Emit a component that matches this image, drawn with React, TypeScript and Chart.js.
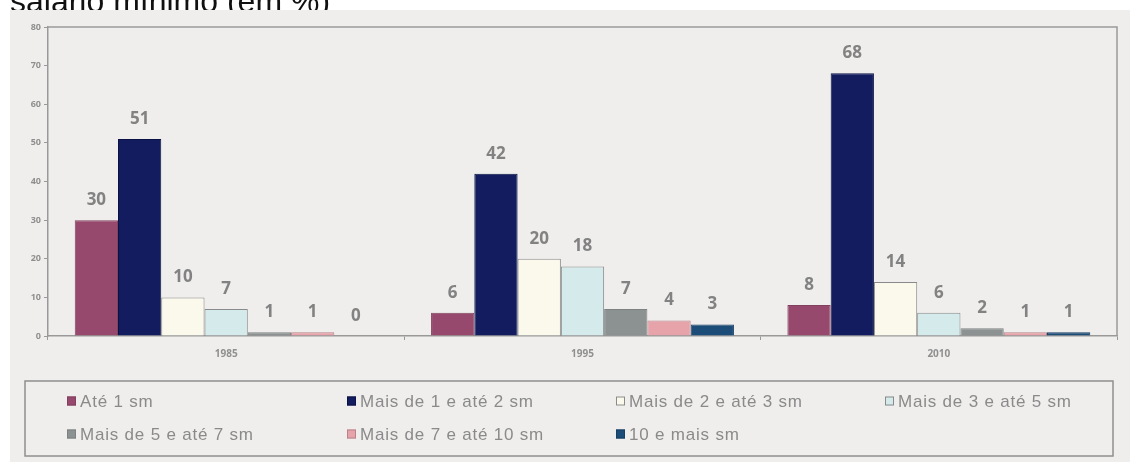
import React, { useEffect, useRef } from "react";
import { Chart, registerables } from "chart.js";

Chart.register(...registerables);

const categories = ["1985", "1995", "2010"];
const seriesLabels = [
  "Até 1 sm",
  "Mais de 1 e até 2 sm",
  "Mais de 2 e até 3 sm",
  "Mais de 3 e até 5 sm",
  "Mais de 5 e até 7 sm",
  "Mais de 7 e até 10 sm",
  "10 e mais sm",
];
const ate1 = [30, 6, 8];
const de1a2 = [51, 42, 68];
const de2a3 = [10, 20, 14];
const de3a5 = [7, 18, 6];
const de5a7 = [1, 7, 2];
const de7a10 = [1, 4, 1];
const mais10 = [0, 3, 1];
const yTicks = [0, 10, 20, 30, 40, 50, 60, 70, 80];
const titleText = "salário mínimo (em %)";

const seriesValues = [ate1, de1a2, de2a3, de3a5, de5a7, de7a10, mais10];
const fills = ["#96496d", "#121c5e", "#fbf9ec", "#d4eaeb", "#8c9292", "#e6a3aa", "#1c4d78"];
const borders = ["#80405e", "#0a1245", "#8a8a8a", "#8a8a8a", "#7c8282", "#b88288", "#163f63"];
const legendPos = [
  [67, 401], [347, 401], [616, 401], [885, 401],
  [67, 434], [347, 434], [616, 434],
];

const GRAY = "#8a8a8a";

const bgPlugin = {
  id: "bgPlugin",
  beforeDraw(chart: any) {
    const ctx = chart.ctx;
    ctx.save();
    ctx.fillStyle = "#ffffff";
    ctx.fillRect(0, 0, chart.width, chart.height);
    ctx.fillStyle = "#111111";
    ctx.font = "32px 'Liberation Sans', Arial, sans-serif";
    ctx.textBaseline = "alphabetic";
    ctx.textAlign = "left";
    ctx.fillText(titleText, 10, 12);
    ctx.fillStyle = "#efeeec";
    ctx.fillRect(10, 10, chart.width - 10, chart.height - 10);
    ctx.restore();
  },
  afterDraw(chart: any) {
    const ctx = chart.ctx;
    const a = chart.chartArea;
    ctx.save();
    ctx.strokeStyle = "#9a9a9a";
    ctx.lineWidth = 1.5;
    ctx.beginPath();
    ctx.moveTo(a.left, a.top);
    ctx.lineTo(a.right, a.top);
    ctx.lineTo(a.right, a.bottom);
    ctx.stroke();

    // legend box
    ctx.strokeStyle = "#8f8f8f";
    ctx.lineWidth = 1.5;
    ctx.strokeRect(25, 381, 1088, 75);
    ctx.font = "17px 'Liberation Sans', Arial, sans-serif";
    (ctx as any).letterSpacing = "0.8px";
    ctx.textBaseline = "middle";
    ctx.textAlign = "left";
    chart.data.datasets.forEach((ds: any, i: number) => {
      const [x, y] = legendPos[i];
      ctx.fillStyle = ds.backgroundColor;
      ctx.fillRect(x, y - 4.5, 9, 9);
      ctx.strokeStyle = ds.borderColor;
      ctx.lineWidth = 1;
      ctx.strokeRect(x + 0.5, y - 4, 8, 8);
      ctx.fillStyle = GRAY;
      ctx.fillText(ds.label, x + 13, y + 1);
    });
    ctx.restore();
  },
  afterDatasetsDraw(chart: any) {
    const ctx = chart.ctx;
    ctx.save();
    ctx.font = "bold 17px 'Open Sans', sans-serif";
    ctx.fillStyle = "#828282";
    ctx.textAlign = "center";
    ctx.textBaseline = "middle";
    chart.data.datasets.forEach((ds: any, i: number) => {
      const meta = chart.getDatasetMeta(i);
      meta.data.forEach((el: any, j: number) => {
        ctx.fillText(String(ds.data[j]), el.x, el.y - 20);
      });
    });
    ctx.restore();
  },
};

export default function App() {
  const ref = useRef<HTMLCanvasElement | null>(null);
  useEffect(() => {
    document.body.style.margin = "0";
    if (!ref.current) return;
    const chart = new Chart(ref.current, {
      type: "bar",
      data: {
        labels: categories,
        datasets: seriesLabels.map((label, i) => ({
          label,
          data: seriesValues[i],
          backgroundColor: fills[i],
          borderColor: borders[i],
          borderWidth: 1,
          categoryPercentage: 0.85,
          barPercentage: 1,
        })),
      },
      options: {
        responsive: false,
        animation: false,
        layout: { padding: { left: 12, top: 27, right: 13, bottom: 0 } },
        plugins: { legend: { display: false }, tooltip: { enabled: false }, title: { display: false } },
        scales: {
          x: {
            offset: true,
            grid: { display: true, drawOnChartArea: false, tickLength: 4, color: "#999999" },
            border: { color: "#999999", width: 1.5 },
            ticks: {
              color: "#8f8f8f",
              padding: 8,
              font: { size: 10, weight: "bold", family: "'Open Sans', sans-serif" },
            },
            afterFit: (s: any) => { s.height = 126; },
          },
          y: {
            min: 0,
            max: 80,
            afterBuildTicks: (s: any) => { s.ticks = yTicks.map((v) => ({ value: v })); },
            grid: { display: true, drawOnChartArea: false, tickLength: 4, color: "#999999" },
            border: { color: "#999999", width: 1.5 },
            ticks: {
              color: "#8f8f8f",
              padding: 3,
              font: { size: 9, weight: "bold", family: "'Open Sans', sans-serif" },
            },
            afterFit: (s: any) => { s.width = 36; },
          },
        },
      },
      plugins: [bgPlugin],
    });
    return () => chart.destroy();
  }, []);
  return (
    <div style={{ width: 1130, height: 462 }}>
      <canvas ref={ref} width={1130} height={462} style={{ display: "block" }} />
    </div>
  );
}
